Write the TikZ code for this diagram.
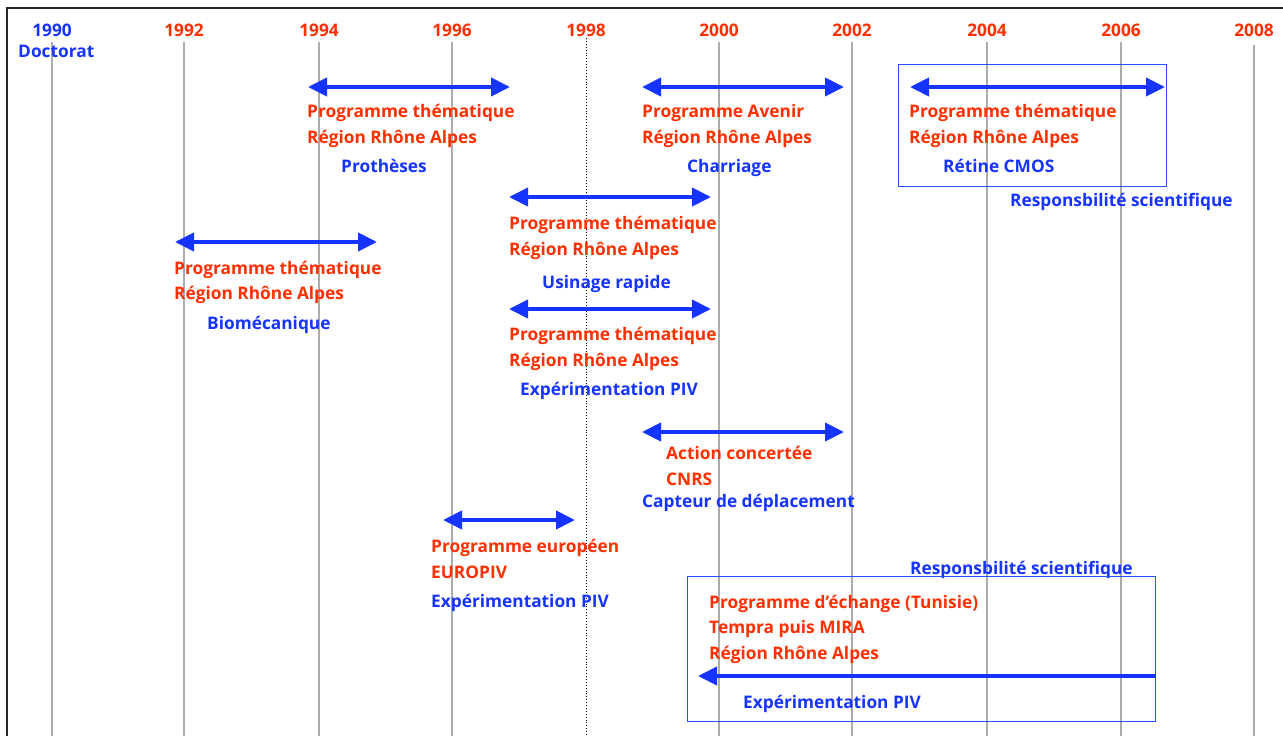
\documentclass[tikz,border=0pt]{standalone}
\usepackage{fontspec}
\setmainfont{Open Sans}
\usetikzlibrary{arrows.meta}
\definecolor{tred}{RGB}{255,48,0}
\definecolor{tblue}{RGB}{22,52,255}
\definecolor{boxblue}{RGB}{40,80,255}
\definecolor{grid}{RGB}{172,172,172}
\begin{document}
\begin{tikzpicture}[x=1pt,y=-1pt,
  txt/.style={font=\fontsize{17.3}{20}\selectfont\bfseries, inner sep=0pt, anchor=base west},
  rtxt/.style={txt, text=tred},
  btxt/.style={txt, text=tblue},
  year/.style={font=\fontsize{17.3}{20}\selectfont\bfseries, inner sep=0pt, anchor=base, text=tred},
  gridline/.style={draw=grid, line width=1.5pt},
  dbl/.style={draw=tblue, line width=4pt, {Triangle[length=19pt,width=18pt]}-{Triangle[length=19pt,width=18pt]}},
  sgl/.style={draw=tblue, line width=4pt, {Triangle[length=19pt,width=18pt]}-},
  frame/.style={draw=boxblue, line width=1.4pt}
]
\useasboundingbox (0,0) rectangle (1283,736);
\fill[white] (0,0) rectangle (1283,736);
% outer frame
\draw[line width=1.5pt, black!85] (7,736) -- (7,8) -- (1283,8);
% grid lines
\foreach \yr/\xx in {1990/52,1992/184,1994/319,1996/452,2000/719,2002/852,2004/987,2006/1121}{
  \draw[gridline] (\xx,42) -- (\xx,736);
}
\draw[gridline] (1254,45) -- (1254,736);
\draw[black, line width=0.9pt, dotted] (586,38) -- (586,736);
% years
\node[year, text=tblue] (y1990) at (52,36) {1990};
\node[btxt] (doct) at (18,57) {Doctorat};
\node[year] (y1992) at (184,36) {1992};
\node[year] (y1994) at (319,36) {1994};
\node[year] (y1996) at (452,36) {1996};
\node[year] (y1998) at (586,36) {1998};
\node[year] (y2000) at (719,36) {2000};
\node[year] (y2002) at (852,36) {2002};
\node[year] (y2004) at (987,36) {2004};
\node[year] (y2006) at (1121,36) {2006};
\node[year] (y2008) at (1254,36) {2008};

% A Protheses
\coordinate (a1) at (308,87); \coordinate (a2) at (510,87);
\draw[dbl] (a1) -- (a2);
\node[rtxt] (a3) at (307,117) {Programme thématique};
\node[rtxt] (a4) at (307,143) {Région Rhône Alpes};
\node[btxt] (a5) at (341,172) {Prothèses};

% B Charriage
\coordinate (b1) at (642,87); \coordinate (b2) at (844,87);
\draw[dbl] (b1) -- (b2);
\node[rtxt] (b3) at (642,117) {Programme Avenir};
\node[rtxt] (b4) at (642,143) {Région Rhône Alpes};
\node[btxt] (b5) at (687,172) {Charriage};

% C Retine
\node[frame, minimum width=268pt, minimum height=122pt, anchor=north west, inner sep=0pt] (cbox) at (898,64) {};
\coordinate (c1) at (910,87); \coordinate (c2) at (1165,87);
\draw[dbl] (c1) -- (c2);
\node[rtxt] (c3) at (909,117) {Programme thématique};
\node[rtxt] (c4) at (909,143) {Région Rhône Alpes};
\node[btxt] (c5) at (943,172) {Rétine CMOS};
\node[btxt] (c6) at (1010,206) {Responsbilité scientifique};

% D Biomecanique
\coordinate (d1) at (175,242); \coordinate (d2) at (377,242);
\draw[dbl] (d1) -- (d2);
\node[rtxt] (d3) at (174,274) {Programme thématique};
\node[rtxt] (d4) at (174,299) {Région Rhône Alpes};
\node[btxt] (d5) at (207,329) {Biomécanique};

% E Usinage
\coordinate (e1) at (509,197); \coordinate (e2) at (711,197);
\draw[dbl] (e1) -- (e2);
\node[rtxt] (e3) at (509,229) {Programme thématique};
\node[rtxt] (e4) at (509,255) {Région Rhône Alpes};
\node[btxt] (e5) at (542,288) {Usinage rapide};

% F PIV
\coordinate (f1) at (509,309); \coordinate (f2) at (711,309);
\draw[dbl] (f1) -- (f2);
\node[rtxt] (f3) at (509,340) {Programme thématique};
\node[rtxt] (f4) at (509,366) {Région Rhône Alpes};
\node[btxt] (f5) at (520,395) {Expérimentation PIV};

% G Action concertee
\coordinate (g1) at (642,432); \coordinate (g2) at (844,432);
\draw[dbl] (g1) -- (g2);
\node[rtxt] (g3) at (666,459) {Action concertée};
\node[rtxt] (g4) at (666,485) {CNRS};
\node[btxt] (g5) at (642,507) {Capteur de déplacement};

% H EUROPIV
\coordinate (h1) at (443,520); \coordinate (h2) at (575,520);
\draw[dbl] (h1) -- (h2);
\node[rtxt] (h3) at (431,552) {Programme européen};
\node[rtxt] (h4) at (431,578) {EUROPIV};
\node[btxt] (h5) at (431,607) {Expérimentation PIV};

% I Tunisie
\node[btxt] (i0) at (910,574) {Responsbilité scientifique};
\node[frame, minimum width=468pt, minimum height=145pt, anchor=north west, inner sep=0pt] (ibox) at (687,576) {};
\node[rtxt] (i1) at (709,608) {Programme d’échange (Tunisie)};
\node[rtxt] (i2) at (709,633) {Tempra puis MIRA};
\node[rtxt] (i3) at (709,659) {Région Rhône Alpes};
\coordinate (i4) at (698,676);
\draw[sgl] (i4) -- (ibox.east |- i4);
\node[btxt] (i5) at (743,708) {Expérimentation PIV};
\end{tikzpicture}
\end{document}
